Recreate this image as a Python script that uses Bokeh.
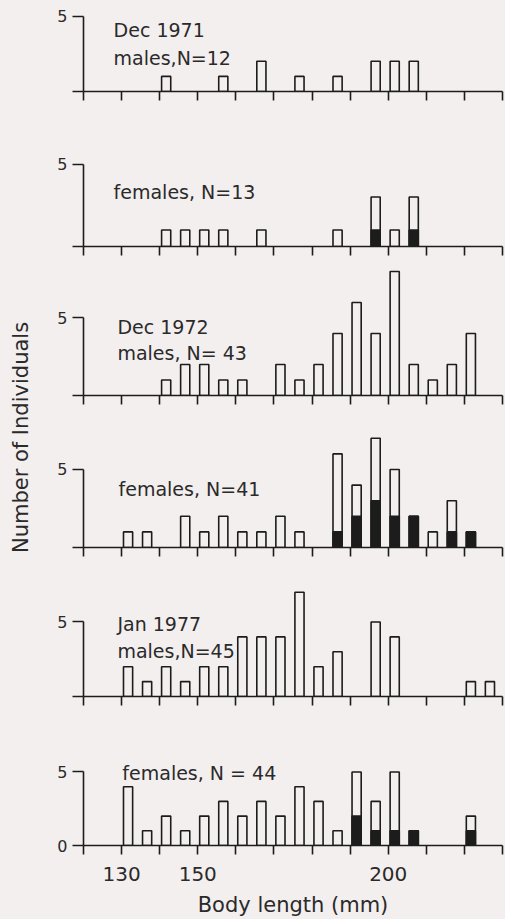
from math import pi
from bokeh.plotting import figure
from bokeh.layouts import row, column
from bokeh.models import Range1d, FixedTicker, Label, ColumnDataSource
from bokeh.embed import file_html
from bokeh.resources import INLINE

# ---------------- data (5 mm body-length classes, counts) ----------------
x_ticks = [120, 130, 140, 150, 160, 170, 180, 190, 200, 210, 220, 230]
x_tick_labels = {130: "130", 150: "150", 200: "200"}

dec71_m_bins = [140, 155, 165, 175, 185, 195, 200, 205]
dec71_m_total = [1, 1, 2, 1, 1, 2, 2, 2]
dec71_m_black = [0, 0, 0, 0, 0, 0, 0, 0]

dec71_f_bins = [140, 145, 150, 155, 165, 185, 195, 200, 205]
dec71_f_total = [1, 1, 1, 1, 1, 1, 3, 1, 3]
dec71_f_black = [0, 0, 0, 0, 0, 0, 1, 0, 1]

dec72_m_bins = [140, 145, 150, 155, 160, 170, 175, 180, 185, 190, 195, 200, 205, 210, 215, 220]
dec72_m_total = [1, 2, 2, 1, 1, 2, 1, 2, 4, 6, 4, 8, 2, 1, 2, 4]
dec72_m_black = [0] * 16

dec72_f_bins = [130, 135, 145, 150, 155, 160, 165, 170, 175, 185, 190, 195, 200, 205, 210, 215, 220]
dec72_f_total = [1, 1, 2, 1, 2, 1, 1, 2, 1, 6, 4, 7, 5, 2, 1, 3, 1]
dec72_f_black = [0, 0, 0, 0, 0, 0, 0, 0, 0, 1, 2, 3, 2, 2, 0, 1, 1]

jan77_m_bins = [130, 135, 140, 145, 150, 155, 160, 165, 170, 175, 180, 185, 195, 200, 220, 225]
jan77_m_total = [2, 1, 2, 1, 2, 2, 4, 4, 4, 7, 2, 3, 5, 4, 1, 1]
jan77_m_black = [0] * 16

jan77_f_bins = [130, 135, 140, 145, 150, 155, 160, 165, 170, 175, 180, 185, 190, 195, 200, 205, 220]
jan77_f_total = [4, 1, 2, 1, 2, 3, 2, 3, 2, 4, 3, 1, 5, 3, 5, 1, 2]
jan77_f_black = [0, 0, 0, 0, 0, 0, 0, 0, 0, 0, 0, 0, 2, 1, 1, 1, 1]

panel_texts = [
    ["Dec 1971", "males,N=12"],
    ["females, N=13"],
    ["Dec 1972", "males, N= 43"],
    ["females, N=41"],
    ["Jan 1977", "males,N=45"],
    ["females, N = 44"],
]

# ---------------- style ----------------
BG = "#f3efee"
INK = "#1c1c1c"
TXT = "#2a2a2a"
FONT = "DejaVu Sans"
BAR_OFFSET = 1.7
BAR_W = 2.4
FRAME_W = 419
LEFT_W = 38


def make_panel(bins, total, black, texts, text_x, text_ys, frame_h, y_end,
               b_top, b_bottom, last=False):
    p = figure(frame_width=FRAME_W, frame_height=frame_h,
               x_range=Range1d(120, 230), y_range=Range1d(0, y_end),
               output_backend="svg", toolbar_location=None,
               min_border_left=45, min_border_right=3,
               min_border_top=b_top, min_border_bottom=b_bottom,
               background_fill_color=BG, border_fill_color=BG,
               outline_line_color=None)
    p.grid.visible = False

    xc = [b + BAR_OFFSET for b in bins]
    src = ColumnDataSource(dict(x=xc, top=total))
    p.vbar(x="x", top="top", bottom=0, width=BAR_W, source=src,
           fill_color=BG, line_color=INK, line_width=1.6)
    bx = [b + BAR_OFFSET for b, k in zip(bins, black) if k > 0]
    bt = [k for k in black if k > 0]
    if bx:
        bsrc = ColumnDataSource(dict(x=bx, top=bt))
        p.vbar(x="x", top="top", bottom=0, width=BAR_W, source=bsrc,
               fill_color=INK, line_color=INK, line_width=1.6)

    xa = p.xaxis[0]
    xa.ticker = FixedTicker(ticks=x_ticks)
    xa.bounds = (120, 230)
    xa.axis_line_color = INK
    xa.axis_line_width = 1.6
    xa.major_tick_line_color = INK
    xa.major_tick_line_width = 1.6
    xa.major_tick_in = 0
    xa.major_tick_out = 9
    xa.minor_tick_line_color = None
    if last:
        xa.major_label_overrides = {t: x_tick_labels.get(t, "") for t in x_ticks}
        xa.major_label_text_font = FONT
        xa.major_label_text_font_size = "20px"
        xa.major_label_text_color = TXT
        xa.major_label_standoff = 12
        xa.axis_label = "Body length (mm)"
        xa.axis_label_text_font = FONT
        xa.axis_label_text_font_size = "21px"
        xa.axis_label_text_font_style = "normal"
        xa.axis_label_text_color = TXT
        xa.axis_label_standoff = 9
    else:
        xa.major_label_overrides = {t: "" for t in x_ticks}
        xa.major_label_text_font_size = "1px"
        xa.major_label_standoff = 0

    ya = p.yaxis[0]
    ya.ticker = FixedTicker(ticks=[0, 5])
    ya.bounds = (0, 5)
    ya.axis_line_color = INK
    ya.axis_line_width = 1.6
    ya.major_tick_line_color = INK
    ya.major_tick_line_width = 1.6
    ya.major_tick_in = 0
    ya.major_tick_out = 11
    ya.minor_tick_line_color = None
    ya.major_label_overrides = {0: "0" if last else "", 5: "5"}
    ya.major_label_text_font = FONT
    ya.major_label_text_font_size = "16px"
    ya.major_label_text_color = TXT
    ya.major_label_standoff = 5

    for t, yv in zip(texts, text_ys):
        p.add_layout(Label(x=text_x, y=yv, text=t, text_font=FONT,
                           text_font_size="19px", text_color=TXT,
                           text_baseline="alphabetic", text_align="left"))
    return p


p1 = make_panel(dec71_m_bins, dec71_m_total, dec71_m_black, panel_texts[0],
                127.9, [4.09, 2.23], 77, 5.10, 14, 29)
p2 = make_panel(dec71_f_bins, dec71_f_total, dec71_f_black, panel_texts[1],
                127.9, [3.28], 126, 7.64, 0, 16)
p3 = make_panel(dec72_m_bins, dec72_m_total, dec72_m_black, panel_texts[2],
                128.9, [4.39, 2.71], 133, 8.58, 0, 25)
p4 = make_panel(dec72_f_bins, dec72_f_total, dec72_f_black, panel_texts[3],
                129.2, [3.74], 127, 8.14, 0, 28)
p5 = make_panel(jan77_m_bins, jan77_m_total, jan77_m_black, panel_texts[4],
                128.9, [4.88, 3.07], 121, 8.12, 0, 24)
p6 = make_panel(jan77_f_bins, jan77_f_total, jan77_f_black, panel_texts[5],
                130.2, [4.9], 125, 8.50, 0, 74, last=True)

TOTAL_H = (14 + 77 + 29) + (126 + 16) + (133 + 25) + (127 + 28) + (121 + 24) + (125 + 74)

lf = figure(width=LEFT_W, height=TOTAL_H, x_range=Range1d(0, LEFT_W),
            y_range=Range1d(TOTAL_H, 0), min_border=0,
            toolbar_location=None, output_backend="svg",
            x_axis_type=None, y_axis_type=None,
            background_fill_color=BG, border_fill_color=BG,
            outline_line_color=None)
lf.grid.visible = False
lf.add_layout(Label(x=20, y=437, text="Number of Individuals", angle=pi / 2,
                    text_align="center", text_baseline="middle",
                    text_font=FONT, text_font_size="21px", text_color=TXT))

col = column(p1, p2, p3, p4, p5, p6, spacing=0,
             styles={"background-color": BG})
layout = row(lf, col, spacing=0, styles={"background-color": BG})

html = file_html(layout, INLINE)
html = html.replace("<body>", '<body style="background:%s">' % BG, 1)
open("out.html", "w").write(html)
